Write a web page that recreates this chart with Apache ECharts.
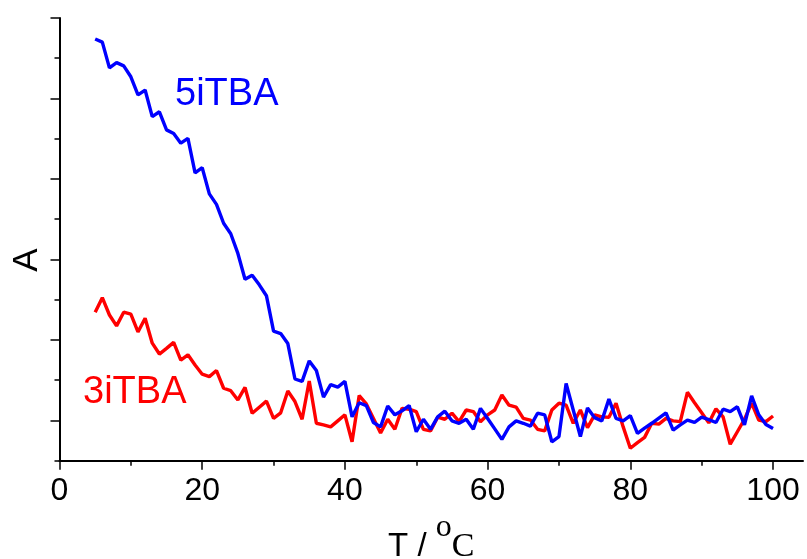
<!DOCTYPE html>
<html>
<head>
<meta charset="utf-8">
<script src="https://cdn.jsdelivr.net/npm/echarts@6/dist/echarts.min.js"></script>
<style>
html,body{margin:0;padding:0;background:#fff;}
#chart{width:807px;height:559px;}
</style>
</head>
<body>
<div id="chart"></div>
<script>
// Temperatures (°C)
const temps = [];
for (let t = 5; t <= 100; t++) temps.push(t);

// Absorbance (arbitrary units) for 5iTBA, T = 5..100
const abs5iTBA = [
  10.48,10.40,9.76,9.89,9.81,9.54,9.09,9.21,8.55,8.67,
  8.22,8.13,7.89,8.01,7.15,7.28,6.63,6.37,5.90,5.64,
  5.15,4.51,4.61,4.37,4.10,3.22,3.16,2.91,2.03,1.97,
  2.48,2.24,1.58,1.89,1.83,1.97,1.09,1.44,1.37,0.95,
  0.84,1.36,1.14,1.24,1.37,0.72,1.03,0.78,1.09,1.23,
  0.99,0.93,1.03,0.78,1.30,1.05,0.79,0.53,0.84,0.99,
  0.93,0.86,1.18,1.14,0.47,0.60,1.92,1.26,0.60,1.31,
  1.07,0.99,1.53,1.05,0.99,1.12,0.68,0.81,0.93,1.06,
  1.19,0.76,0.89,1.01,0.95,1.08,1.02,0.95,1.28,1.22,
  1.34,0.89,1.61,1.14,0.90,0.80
];

// Absorbance (arbitrary units) for 3iTBA, T = 5..100
const abs3iTBA = [
  3.69,4.05,3.62,3.35,3.69,3.64,3.20,3.54,2.92,2.65,
  2.79,2.94,2.50,2.63,2.38,2.15,2.09,2.24,1.80,1.74,
  1.51,1.82,1.18,1.33,1.48,1.05,1.19,1.73,1.47,1.03,
  1.98,0.93,0.89,0.84,0.99,1.14,0.47,1.62,1.41,1.05,
  0.69,1.03,0.78,1.30,1.28,1.22,0.78,0.74,1.08,1.03,
  1.18,0.97,1.26,1.22,0.97,1.14,1.26,1.63,1.38,1.33,
  1.05,1.01,0.78,0.74,1.26,1.43,1.38,0.93,1.26,0.82,
  1.14,1.09,1.08,1.43,0.84,0.31,0.45,0.58,0.93,0.91,
  1.05,0.99,0.97,1.70,1.44,1.19,0.94,1.29,1.09,0.41,
  0.72,1.03,1.43,1.01,0.97,1.11
];

const xMajorTicks = [0, 20, 40, 60, 80, 100];
const xMinorTicks = [10, 30, 50, 70, 90];
const yShortTicks = [0, 2, 4, 6, 8, 10];
const yLongTicks = [1, 3, 5, 7, 9, 11];

const seriesNames = ['3iTBA', '5iTBA'];

const pairs = (ys) => temps.map((t, i) => [t, ys[i]]);

const chart = echarts.init(document.getElementById('chart'), null, {renderer: 'canvas'});
const sansFont = '"Liberation Sans", Arial, sans-serif';
const serifFont = '"Liberation Serif", "Times New Roman", serif';

chart.setOption({
  animation: false,
  backgroundColor: '#ffffff',
  grid: {left: 59.5, top: 18, right: 4, bottom: 98.3, containLabel: false, outerBoundsMode: 'none'},
  xAxis: [{
    type: 'value', min: 0, max: 104.2,
    axisLine: {show: true, lineStyle: {color: '#000', width: 2}},
    axisTick: {show: true, customValues: xMajorTicks, length: 9, lineStyle: {color: '#000', width: 1.5}},
    axisLabel: {show: true, customValues: xMajorTicks, color: '#000', fontSize: 32, fontFamily: sansFont, margin: 14},
    splitLine: {show: false},
    name: '{a|T / }{b|o}{c|C}',
    nameLocation: 'middle',
    nameGap: 45,
    nameTextStyle: {
      rich: {
        a: {fontSize: 33, fontFamily: sansFont, color: '#000', lineHeight: 52, verticalAlign: 'bottom'},
        b: {fontSize: 32, fontFamily: serifFont, color: '#000', lineHeight: 18, verticalAlign: 'top'},
        c: {fontSize: 34, fontFamily: serifFont, color: '#000', lineHeight: 52, verticalAlign: 'bottom'}
      }
    }
  }, {
    type: 'value', min: 0, max: 104.2, position: 'bottom',
    axisLine: {show: false},
    axisTick: {show: true, customValues: xMinorTicks, length: 5, lineStyle: {color: '#000', width: 1.5}},
    axisLabel: {show: false},
    splitLine: {show: false}
  }],
  yAxis: [{
    type: 'value', min: 0, max: 11, interval: 1, position: 'left',
    axisLine: {show: true, lineStyle: {color: '#000', width: 2}},
    axisTick: {show: true, customValues: yShortTicks, length: 5, lineStyle: {color: '#000', width: 1.5}},
    axisLabel: {show: false},
    splitLine: {show: false}
  }, {
    type: 'value', min: 0, max: 11, interval: 1, position: 'left',
    axisLine: {show: false},
    axisTick: {show: true, customValues: yLongTicks, length: 9, lineStyle: {color: '#000', width: 1.5}},
    axisLabel: {show: false},
    splitLine: {show: false}
  }],
  series: [{
    name: seriesNames[0], type: 'line', xAxisIndex: 0, yAxisIndex: 0,
    data: pairs(abs3iTBA), showSymbol: false, symbol: 'none',
    lineStyle: {color: '#ff0000', width: 3.4}, z: 2
  }, {
    name: seriesNames[1], type: 'line', xAxisIndex: 0, yAxisIndex: 0,
    data: pairs(abs5iTBA), showSymbol: false, symbol: 'none',
    lineStyle: {color: '#0000ff', width: 3.4}, z: 3
  }],
  graphic: [{
    type: 'text', left: 175, top: 76,
    style: {text: seriesNames[1], fill: '#0000ff', fontSize: 38, fontFamily: sansFont}
  }, {
    type: 'text', left: 83, top: 374,
    style: {text: seriesNames[0], fill: '#ff0000', fontSize: 38, fontFamily: sansFont}
  }, {
    type: 'text', x: 10, y: 260, rotation: Math.PI / 2,
    style: {text: 'A', fill: '#000', fontSize: 35, fontFamily: sansFont, align: 'center', verticalAlign: 'top'}
  }]
});
</script>
</body>
</html>
